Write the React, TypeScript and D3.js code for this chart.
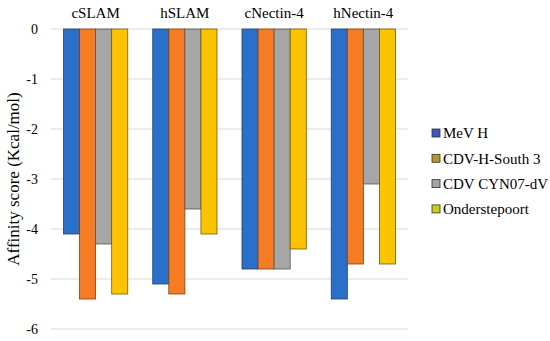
import React from 'react';
import * as d3 from 'd3';

const categories = ['cSLAM', 'hSLAM', 'cNectin-4', 'hNectin-4'];
const seriesNames = ['MeV H', 'CDV-H-South 3', 'CDV CYN07-dV', 'Onderstepoort'];
const mevH = [-4.1, -5.1, -4.8, -5.4];
const cdvSouth3 = [-5.4, -5.3, -4.8, -4.7];
const cdvCyn07 = [-4.3, -3.6, -4.8, -3.1];
const onderstepoort = [-5.3, -4.1, -4.4, -4.7];
const yTicks = [0, -1, -2, -3, -4, -5, -6];

const seriesValues = [mevH, cdvSouth3, cdvCyn07, onderstepoort];
const barColors = ['#2a6fc9', '#f57c22', '#a6a6a6', '#fbc300'];
const barStrokes = ['#1f3f7a', '#8a3a10', '#555555', '#7a5a00'];
const legendColors = ['#3f55c4', '#b8962e', '#a3a3a3', '#cccc12'];

const W = 550;
const H = 341;
const margin = { top: 29, right: 142, bottom: 12, left: 51 };
const font = 'Liberation Serif';

const App: React.FC = () => {
  const innerW = W - margin.left - margin.right;
  const y = d3.scaleLinear().domain([0, -6]).range([margin.top, margin.top + 300]);
  const x0 = d3.scaleBand<string>().domain(categories).range([margin.left, margin.left + innerW]).paddingInner(0.28).paddingOuter(0.14);
  const x1 = d3.scaleBand<string>().domain(seriesNames).range([0, x0.bandwidth()]);

  return (
    <svg width={W} height={H} style={{ position: 'absolute', left: 0, top: 0, background: '#fff' }}>
      {/* grid */}
      {yTicks.map(t => (
        <g key={t}>
          <line x1={margin.left} x2={margin.left + innerW} y1={y(t)} y2={y(t)} stroke="#d9d9d9" strokeWidth={1} />
          <text x={38} y={y(t)} dy="0.35em" textAnchor="end" fontSize={14} fontFamily={font} fill="#000">{t === 0 ? '0' : `-${Math.abs(t)}`}</text>
        </g>
      ))}

      {/* bars */}
      {categories.map((c, ci) => (
        <g key={c} transform={`translate(${x0(c)},0)`}>
          {seriesNames.map((s, si) => {
            const v = seriesValues[si][ci];
            return (
              <rect key={s} x={x1(s)} y={y(0)} width={x1.bandwidth()} height={y(v) - y(0)}
                fill={barColors[si]} stroke={barStrokes[si]} strokeWidth={0.8} />
            );
          })}
          <text x={x0.bandwidth() / 2} y={13} dy="0.35em" textAnchor="middle" fontSize={15} fontFamily={font}>{c}</text>
        </g>
      ))}

      {/* axis title */}
      <text transform={`translate(13,${y(-3)}) rotate(-90)`} textAnchor="middle" dy="0.35em" fontSize={17} fontFamily={font}>
        Affinity score (Kcal/mol)
      </text>

      {/* legend */}
      {seriesNames.map((s, i) => (
        <g key={s} transform={`translate(432,${133 + i * 25.3})`}>
          <rect x={0} y={-4} width={8} height={8} fill={legendColors[i]} stroke="#333" strokeWidth={0.8} />
          <text x={11} y={0} dy="0.35em" fontSize={15} fontFamily={font}>{s}</text>
        </g>
      ))}
    </svg>
  );
};

export default App;
